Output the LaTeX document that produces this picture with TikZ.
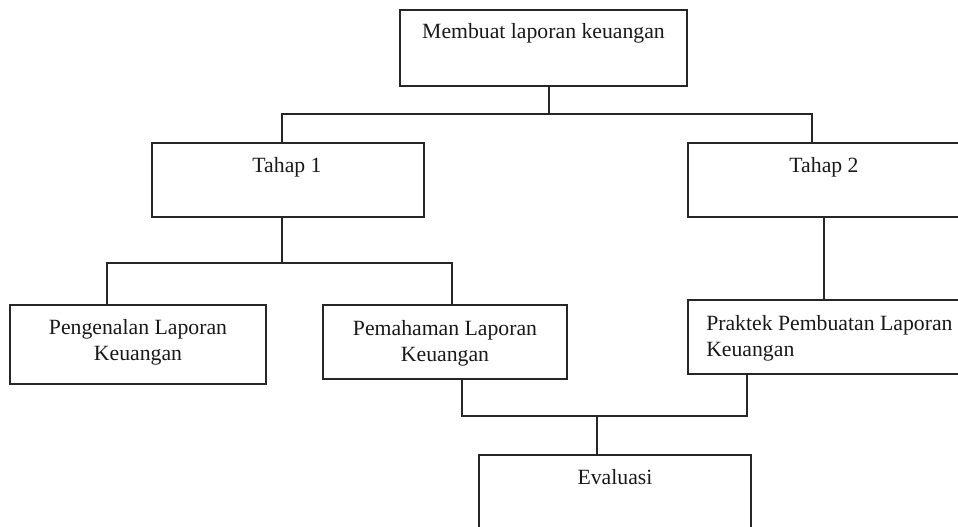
\documentclass[tikz,border=0pt]{standalone}
\usepackage{fontspec}
\setmainfont{Liberation Serif}
\usetikzlibrary{fit}
\begin{document}
\begin{tikzpicture}[x=0.75pt,y=-0.75pt,
  box/.style={draw=black!85, line width=1pt, inner sep=0pt},
  conn/.style={draw=black!85, line width=1pt},
  lbl/.style={inner sep=0pt, font=\fontsize{16.3}{19.5}\selectfont, text=black!90}]
\useasboundingbox (0,0) rectangle (958,527);
% boxes
\node[box, fit={(400,10)(687,86)}] (top) {};
\node[box, fit={(152,143)(424,217)}] (tahap1) {};
\node[box, fit={(688,143)(962,217)}] (tahap2) {};
\node[box, fit={(10,305)(266,384)}] (peng) {};
\node[box, fit={(323,305)(567,379)}] (pema) {};
\node[box, fit={(688,300)(962,374)}] (prak) {};
\node[box, fit={(479,455)(751,532)}] (eval) {};
% texts
\node[lbl, anchor=base] (ttop) at (543.5,39) {Membuat laporan keuangan};
\node[lbl, anchor=base] (tt1) at (287,173) {Tahap 1};
\node[lbl, anchor=base] (tt2) at (824,173) {Tahap 2};
\node[lbl, anchor=north, align=center] (tpeng) at (138,319) {Pengenalan Laporan\\Keuangan};
\node[lbl, anchor=north, align=center] (tpema) at (445,320) {Pemahaman Laporan\\Keuangan};
\node[lbl, anchor=north west, align=left] (tprak) at (706,315) {Praktek Pembuatan Laporan\\Keuangan};
\node[lbl, anchor=base] (teval) at (615,485) {Evaluasi};
% bus coordinates
\coordinate (a0) at (549,114);
\coordinate (aL) at (282,114);
\coordinate (aR) at (812,114);
\coordinate (b0) at (282,263);
\coordinate (bL) at (107,263);
\coordinate (bR) at (452,263);
\coordinate (c2) at (824,260);
\coordinate (dL) at (462,416);
\coordinate (dR) at (747,416);
\coordinate (d0) at (597,416);
% connectors
\draw[conn] (top.south -| a0) -- (a0);
\draw[conn] (tahap1.north -| aL) -- (aL) -- (aR) -- (tahap2.north -| aR);
\draw[conn] (tahap1.south -| b0) -- (b0);
\draw[conn] (peng.north -| bL) -- (bL) -- (bR) -- (pema.north -| bR);
\draw[conn] (tahap2.south -| c2) -- (prak.north -| c2);
\draw[conn] (pema.south -| dL) -- (dL) -- (dR) -- (prak.south -| dR);
\draw[conn] (d0) -- (eval.north -| d0);
\end{tikzpicture}
\end{document}
